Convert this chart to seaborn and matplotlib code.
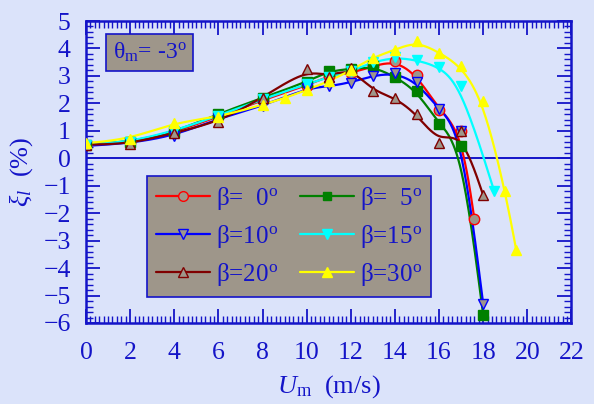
import numpy as np
import pandas as pd
import matplotlib
matplotlib.use("Agg")
import matplotlib.pyplot as plt
from matplotlib.lines import Line2D
import seaborn as sns

# ---- data ----
x_common = [0, 2, 4, 6, 8, 10, 11, 12, 13, 14, 15, 16, 17]

x_b0 = x_common + [17.6]
y_b0 = [0.50, 0.58, 0.95, 1.52, 2.12, 2.65, 3.00, 3.10, 3.35, 3.56, 3.03, 1.76, 1.00, -2.20]

x_b5 = x_common + [18]
y_b5 = [0.50, 0.60, 0.95, 1.62, 2.20, 2.78, 3.18, 3.25, 3.35, 2.97, 2.45, 1.24, 0.45, -5.70]

x_b10 = x_common + [18]
y_b10 = [0.45, 0.55, 0.82, 1.45, 1.90, 2.55, 2.62, 2.76, 3.01, 3.10, 2.77, 1.78, 1.00, -5.30]

x_b15 = x_common + [18.5]
y_b15 = [0.50, 0.60, 1.00, 1.55, 2.15, 2.70, 2.95, 3.18, 3.50, 3.68, 3.57, 3.34, 2.63, -1.20]

x_b20 = x_common + [18]
y_b20 = [0.50, 0.52, 0.93, 1.32, 2.20, 3.25, 2.95, 3.30, 2.45, 2.21, 1.60, 0.56, 1.00, -1.34]

x_b30 = [0, 2, 4, 6, 8, 9, 10, 11, 12, 13, 14, 15, 16, 17, 18, 19, 19.5]
y_b30 = [0.55, 0.70, 1.30, 1.50, 1.95, 2.19, 2.49, 2.80, 3.20, 3.67, 3.95, 4.26, 3.85, 3.36, 2.10, -1.20, -3.35]

labels = [r"β=  0$^{\rm o}$", r"β=  5$^{\rm o}$", r"β=10$^{\rm o}$",
          r"β=15$^{\rm o}$", r"β=20$^{\rm o}$", r"β=30$^{\rm o}$"]

x_ticks = list(range(0, 23, 2))
y_ticks = list(range(-6, 6))

# ---- style ----
BG = "#dbe3fa"
INK = "#1414c8"
BOXFILL = "#9e968a"

sns.set_style("ticks")
plt.rcParams["font.family"] = ["Liberation Serif", "DejaVu Serif"]
plt.rcParams["mathtext.fontset"] = "custom"
plt.rcParams["mathtext.rm"] = "Liberation Serif"
plt.rcParams["mathtext.it"] = "Liberation Serif:italic"
plt.rcParams["mathtext.bf"] = "Liberation Serif:bold"


def bspline(xs, ys, n=40):
    """Uniform cubic B-spline using the points as control points (clamped ends)."""
    px = np.r_[xs[0], xs[0], xs, xs[-1], xs[-1]].astype(float)
    py = np.r_[ys[0], ys[0], ys, ys[-1], ys[-1]].astype(float)
    t = np.linspace(0, 1, n, endpoint=False)
    b0 = (1 - t) ** 3 / 6
    b1 = (3 * t ** 3 - 6 * t ** 2 + 4) / 6
    b2 = (-3 * t ** 3 + 3 * t ** 2 + 3 * t + 1) / 6
    b3 = t ** 3 / 6
    cx, cy = [], []
    for i in range(len(px) - 3):
        cx.append(b0 * px[i] + b1 * px[i + 1] + b2 * px[i + 2] + b3 * px[i + 3])
        cy.append(b0 * py[i] + b1 * py[i + 1] + b2 * py[i + 2] + b3 * py[i + 3])
    cx.append([px[-1]])
    cy.append([py[-1]])
    return np.concatenate(cx), np.concatenate(cy)


series = [
    (x_b0, y_b0, "#ff0000", "o", BOXFILL),
    (x_b5, y_b5, "#008000", "s", "#008000"),
    (x_b10, y_b10, "#0000ff", "v", BOXFILL),
    (x_b15, y_b15, "#00ffff", "v", "#00ffff"),
    (x_b20, y_b20, "#800000", "^", BOXFILL),
    (x_b30, y_b30, "#ffff00", "^", "#ffff00"),
]

fig = plt.figure(figsize=(5.94, 4.04), dpi=100, facecolor=BG)
ax = fig.add_axes([0.1448, 0.2005, 0.8172, 0.7475])
ax.set_facecolor(BG)

ax.axhline(0, color=INK, lw=1.4, zorder=1)

handles = []
for (xs, ys, col, mk, fc), lab in zip(series, labels):
    cx, cy = bspline(np.array(xs), np.array(ys))
    sns.lineplot(x=cx, y=cy, ax=ax, color=col, lw=1.6, sort=False,
                 estimator=None, zorder=2, legend=False)
    ms = 7.5 if mk != "s" else 6.5
    ax.plot(xs, ys, ls="none", marker=mk, ms=ms, mfc=fc, mec=col, mew=1.0, zorder=3)
    handles.append(Line2D([], [], color=col, lw=1.6, marker=mk, ms=ms - 0.5,
                          mfc=fc, mec=col, mew=1.0, label=lab))

ax.set_xlim(0, 22)
ax.set_ylim(-6, 5)
ax.set_xticks(x_ticks)
ax.set_yticks(y_ticks)
ax.xaxis.set_minor_locator(matplotlib.ticker.MultipleLocator(0.2))
ax.yaxis.set_minor_locator(matplotlib.ticker.MultipleLocator(0.2))
ax.tick_params(which="both", direction="in", top=True, right=True, colors=INK,
               labelcolor=INK, labelsize=18.5)
ax.tick_params(which="major", length=10, width=1.3)
ax.tick_params(axis="x", which="major", pad=14)
ax.tick_params(axis="y", which="major", pad=11)
ax.tick_params(which="minor", length=5, width=1.0)
for sp in ax.spines.values():
    sp.set_visible(True)
    sp.set_color(INK)
    sp.set_linewidth(1.8)

ax.set_xlabel(r"$U_{\rm m}$  (m/s)", fontsize=19, color=INK, labelpad=6)
ax.set_ylabel(r"$\xi_l$  (%)", fontsize=19, color=INK, labelpad=6)

# legend: column-wise order gives β=0,10,20 in the first column
order = [0, 2, 4, 1, 3, 5]
leg = ax.legend([handles[i] for i in order], [labels[i] for i in order],
                ncol=2, loc="upper left", bbox_to_anchor=(0.126, 0.487),
                borderaxespad=0.0,
                fontsize=18, frameon=True, fancybox=False, handlelength=2.15,
                handletextpad=0.25, columnspacing=0.9, labelspacing=0.45,
                borderpad=0.35)
leg.get_frame().set_facecolor(BOXFILL)
leg.get_frame().set_edgecolor(INK)
leg.get_frame().set_linewidth(1.2)
leg.get_frame().set_alpha(1)
for t in leg.get_texts():
    t.set_color(INK)

ax.text(0.055, 0.895, r"θ$_{\rm m}$= -3$^{\rm o}$", transform=ax.transAxes,
        fontsize=17, color=INK, ha="left", va="center",
        bbox=dict(boxstyle="square,pad=0.3", fc=BOXFILL, ec=INK, lw=1.2))

fig.savefig("out.png", dpi=100, facecolor=BG)
